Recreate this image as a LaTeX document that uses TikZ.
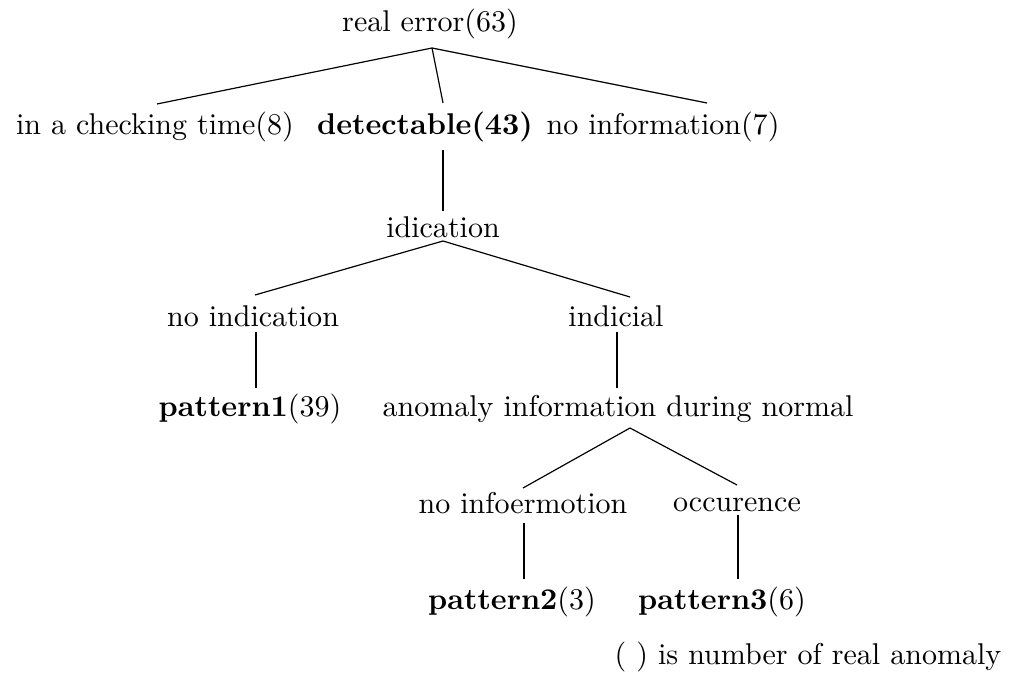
\documentclass[tikz,border=0pt]{standalone}
\usetikzlibrary{calc}
\begin{document}
\begin{tikzpicture}[x=0.338pt,y=-0.338pt,
  lbl/.style={anchor=base,inner sep=0pt,font=\fontsize{10.15}{12}\selectfont},
  edge/.style={line width=0.4pt}]
\useasboundingbox (0,0) rectangle (1014,686);
\node[lbl] (root) at (430,31) {real error(63)};
\node[lbl] (chk) at (155,134) {in a checking time(8)};
\node[lbl] (det) at (425,134) {\textbf{detectable(43)}};
\node[lbl] (noinfo) at (663,134) {no information(7)};
\node[lbl] (idic) at (443,237) {idication};
\node[lbl] (noind) at (253,326) {no indication};
\node[lbl] (indic) at (616,326) {indicial};
\node[lbl] (p1) at (250,416) {\textbf{pattern1}(39)};
\node[lbl] (anom) at (618,416) {anomaly information during normal};
\node[lbl] (noinf2) at (523,513) {no infoermotion};
\node[lbl] (occ) at (737,511) {occurence};
\node[lbl] (p2) at (512,609) {\textbf{pattern2}(3)};
\node[lbl] (p3) at (722,609) {\textbf{pattern3}(6)};
\node[lbl] (note) at (808,664) {( ) is number of real anomaly};
% level 1
\coordinate (ra) at ($(root.base)+(2,17)$);
\draw[edge] (ra) -- ($(chk.base)+(2,-30)$);
\draw[edge] (ra) -- ($(det.base)+(18,-31)$);
\draw[edge] (ra) -- ($(noinfo.base)+(44,-31)$);
% detectable -> idication
\draw[edge] ($(det.base)+(18,16)$) -- ($(idic.base)+(0,-26)$);
% idication
\coordinate (ia) at ($(idic.base)+(0,4)$);
\draw[edge] (ia) -- ($(noind.base)+(2,-31)$);
\draw[edge] (ia) -- ($(indic.base)+(14,-29)$);
\draw[edge] ($(noind.base)+(3,6)$) -- ($(p1.base)+(6,-28)$);
\draw[edge] ($(indic.base)+(1,6)$) -- ($(anom.base)+(-1,-28)$);
% anomaly
\coordinate (aa) at ($(anom.base)+(12,12)$);
\draw[edge] (aa) -- ($(noinf2.base)+(0,-25)$);
\draw[edge] (aa) -- ($(occ.base)+(0,-26)$);
\draw[edge] ($(noinf2.base)+(1,10)$) -- ($(p2.base)+(12,-30)$);
\draw[edge] ($(occ.base)+(1,4)$) -- ($(p3.base)+(16,-30)$);
\end{tikzpicture}
\end{document}
